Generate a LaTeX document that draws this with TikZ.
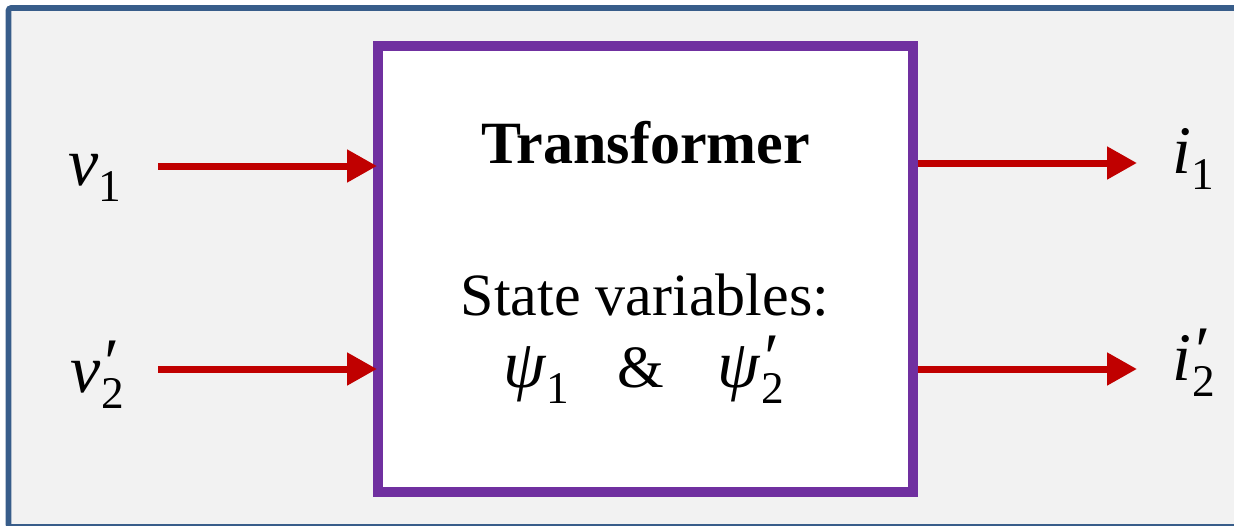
\documentclass[tikz,border=0pt]{standalone}
\usepackage{fontspec}
\setmainfont{Liberation Serif}
\usetikzlibrary{arrows.meta, positioning}

\definecolor{frameblue}{HTML}{385D8A}
\definecolor{panelgray}{HTML}{F2F2F2}
\definecolor{boxpurple}{HTML}{7030A0}
\definecolor{sigred}{HTML}{C00000}

% symbol with subscript, and with prime and subscript
\newcommand{\subsz}{\fontsize{34}{34}\selectfont}
\newcommand{\symsub}[2]{\textit{#1}\raisebox{-12.5pt}{\subsz #2}}
\newcommand{\symprime}[2]{\textit{#1}\rlap{\raisebox{5pt}{\textit{′}}}\raisebox{-12.5pt}{\subsz\kern1pt #2}}

\begin{document}
\begin{tikzpicture}[x=0.75pt, y=-0.75pt,
    sig/.style={line width=5.25pt, draw=sigred, -{Triangle[length=22.5pt, width=23.5pt]}},
    tbox/.style={draw=boxpurple, fill=white, line width=7.5pt, inner sep=0pt,
                 minimum width=401.25pt, minimum height=334.5pt},
    lbl/.style={anchor=base west, inner sep=0pt, font=\fontsize{51}{51}\selectfont},
    boxtext/.style={anchor=base, inner sep=0pt, font=\fontsize{45}{45}\selectfont}]

    % Fundo e moldura
    \useasboundingbox (0,0) rectangle (1234,525);
    \clip (0,0) rectangle (1234,525);
    \draw[frameblue, fill=panelgray, line width=4.3pt, rounded corners=2pt]
        (8.5,8) rectangle (1320,527);

    % Bloco do transformador
    \node[tbox] (tf) at (645.5,269) {};
    \node[boxtext] (title) at (645.5,163) {\bfseries Transformer};
    \node[boxtext] (state) at (645,315) {State variables:};
    \node[lbl] (psi1) at (503,387) {\symsub{ψ}{1}};
    \node[boxtext] (amp) at (640.5,387) {\&};
    \node[lbl] (psi2) at (717,387) {\symprime{ψ}{2}};

    % Entradas
    \node[lbl] (v1) at (68,185) {\symsub{v}{1}};
    \node[lbl] (v2) at (70,392) {\symprime{v}{2}};
    \coordinate (in1) at (158,166);
    \coordinate (in2) at (158,369);
    \draw[sig, shorten >=-3pt] (in1) -- (in1 -| tf.west);
    \draw[sig, shorten >=-3pt] (in2) -- (in2 -| tf.west);

    % Saidas
    \coordinate (out1) at (1137,163);
    \coordinate (out2) at (1137,369);
    \draw[sig] (out1 -| tf.east) -- (out1);
    \draw[sig] (out2 -| tf.east) -- (out2);
    \node[lbl] (i1) at (1172,173) {\symsub{i}{1}};
    \node[lbl] (i2) at (1172,380) {\symprime{i}{2}};

\end{tikzpicture}
\end{document}
